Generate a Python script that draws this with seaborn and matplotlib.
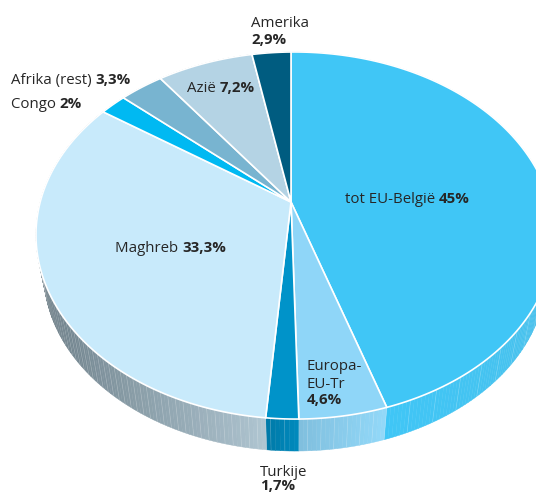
import numpy as np
import matplotlib
matplotlib.use("Agg")
import matplotlib.pyplot as plt
from matplotlib.collections import PolyCollection
from matplotlib.colors import to_rgb
import seaborn as sns

# Data
categories = ["tot EU-België", "Europa-EU-Tr", "Turkije", "Maghreb", "Congo",
              "Afrika (rest)", "Azië", "Amerika"]
values = [45.0, 4.6, 1.7, 33.3, 2.0, 3.3, 7.2, 2.9]
value_labels = ["45%", "4,6%", "1,7%", "33,3%", "2%", "3,3%", "7,2%", "2,9%"]
top_colors = ["#40C6F6", "#8FD6F8", "#0093C9", "#C8EAFB", "#00B9F2",
              "#78B4D0", "#B4D3E4", "#005C80"]
# colour of the side band at the clockwise start and end of each slice
side_start = ["#5FB4D2", "#92D8F8", "#0089BC", "#B0C6D2", "#3E525C",
              "#3E525C", "#3E525C", "#3E525C"]
side_end = ["#40C6F6", "#7FBEDD", "#0078A6", "#303F47", "#3E525C",
            "#3E525C", "#3E525C", "#3E525C"]

sns.set_style("white")
plt.rcParams["font.family"] = ["Open Sans", "DejaVu Sans"]
palette = sns.color_palette(top_colors)

fig = plt.figure(figsize=(5.36, 4.94), dpi=100)
ax = fig.add_axes([0, 0, 1, 1])
ax.set_xlim(0, 536)
ax.set_ylim(494, 0)
ax.axis("off")

# Projection of the flat pie onto the page (perspective view of a circle)
APEX = np.array([291.0, 202.0])
A, B, K, M = 177.4, 254.7, 0.1826, -0.0155
RIM_CENTRE = np.array([295.0, 235.0])
SCALE, DROP = 0.97, 37.5


def project(theta):
    u, v = np.sin(theta), np.cos(theta)
    den = 1 + K * v + M * u
    return np.column_stack([APEX[0] + B * u / den, APEX[1] - A * v / den])


def lower(points):
    return (points - RIM_CENTRE) * SCALE + RIM_CENTRE + np.array([0, DROP])


edges = np.radians(np.cumsum([0.0] + values) * 3.6)

# Side band
quads, colors = [], []
lines = []
for i, (a0, a1) in enumerate(zip(edges[:-1], edges[1:])):
    n = max(2, int(np.degrees(a1 - a0) / 0.8))
    th = np.linspace(a0, a1, n + 1)
    up, lo = project(th), lower(project(th))
    c0, c1 = np.array(to_rgb(side_start[i])), np.array(to_rgb(side_end[i]))
    for j in range(n):
        t = j / n
        if i == 3:  # Maghreb darkens quickly away from the front
            t = min(1.0, t ** 0.8)
        quads.append([up[j], up[j + 1], lo[j + 1], lo[j]])
        colors.append(tuple(c0 + (c1 - c0) * t))
        step = 2 if i == 3 else 3 if i in (1, 2) else 7
        if j % step == 0:
            lines.append((up[j], lo[j]))
ax.add_collection(PolyCollection(quads, facecolors=colors, edgecolors=colors,
                                 linewidths=0.3, zorder=1))
for p, q in lines:
    ax.plot([p[0], q[0]], [p[1], q[1]], color="white", lw=0.5, alpha=0.22, zorder=2)

# Top face
for i, (a0, a1) in enumerate(zip(edges[:-1], edges[1:])):
    th = np.linspace(a0, a1, max(3, int(np.degrees(a1 - a0)) + 2))
    poly = np.vstack([APEX, project(th)])
    ax.fill(poly[:, 0], poly[:, 1], facecolor=palette[i], edgecolor="white",
            linewidth=1.2, joinstyle="miter", zorder=3)

# Labels
TXT = "#262626"
FS = 10.8


def pair(x, y, regular, bold):
    t = ax.text(x, y, regular + " ", fontsize=FS, color=TXT, va="baseline", zorder=5)
    fig.canvas.draw()
    box = t.get_window_extent().transformed(ax.transData.inverted())
    ax.text(box.x1, y, bold, fontsize=FS, fontweight="bold", color=TXT,
            va="baseline", ha="left", zorder=5)


def line(x, y, s, bold=False):
    ax.text(x, y, s, fontsize=FS, color=TXT, va="baseline",
            fontweight="bold" if bold else "normal", zorder=5)


line(251, 27, categories[7])
line(251, 44, value_labels[7], True)
pair(11, 84, categories[5], value_labels[5])
pair(11, 108, categories[4], value_labels[4])
pair(187, 92, categories[6], value_labels[6])
pair(345, 203, categories[0], value_labels[0])
pair(115, 252, categories[3], value_labels[3])
line(307, 370, "Europa-")
line(307, 388, "EU-Tr")
line(307, 404, value_labels[1], True)
line(260, 476, categories[2])
line(260, 490, value_labels[2], True)

fig.savefig("out.png", dpi=100, facecolor="white")
